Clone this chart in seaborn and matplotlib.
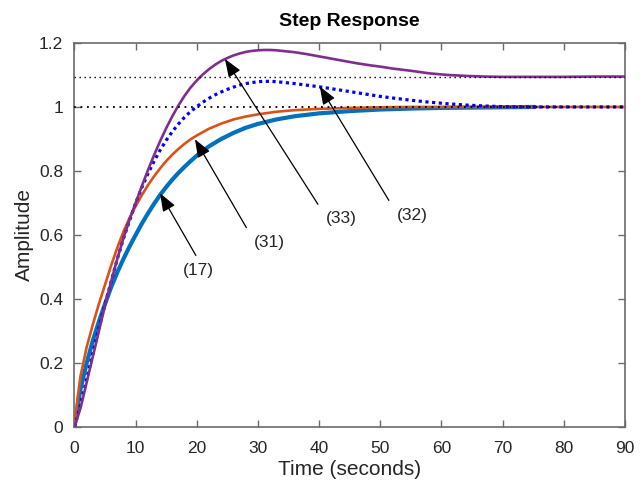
import numpy as np
import pandas as pd
import seaborn as sns
import matplotlib.pyplot as plt
from matplotlib.ticker import FormatStrFormatter

#%% Data
t17 = [0, 0.5, 1, 2, 3, 4, 5, 6, 7, 8, 9, 10, 11, 12, 13, 14, 15, 16, 17,
       18, 19, 20, 22, 24, 26, 28, 30, 33, 36, 40, 45, 50, 55, 60, 65, 70,
       75.3]
y17 = [0, 0.065, 0.12, 0.2, 0.27, 0.33, 0.385, 0.437, 0.483, 0.525, 0.564,
       0.60, 0.635, 0.667, 0.697, 0.725, 0.75, 0.773, 0.794, 0.813, 0.831,
       0.848, 0.877, 0.90, 0.919, 0.935, 0.947, 0.961, 0.971, 0.98, 0.987,
       0.992, 0.995, 0.997, 0.998, 0.999, 1.0]

t31 = [0, 0.5, 1, 2, 3, 4, 5, 6, 7, 8, 9, 10, 11, 12, 13, 14, 15, 16, 17,
       18, 19, 20, 22, 24, 26, 28, 30, 33, 36, 40, 45, 50, 55, 60, 70, 80, 90]
y31 = [0, 0.09, 0.16, 0.25, 0.32, 0.385, 0.445, 0.505, 0.56, 0.61, 0.653,
       0.69, 0.724, 0.755, 0.783, 0.808, 0.831, 0.851, 0.869, 0.885, 0.899,
       0.911, 0.932, 0.948, 0.961, 0.97, 0.977, 0.985, 0.99, 0.994, 0.997,
       0.999, 1.0, 1.0, 1.0, 1.0, 1.0]

t_sec = [0, 1, 2, 3, 4, 5, 6, 7, 8, 9, 10, 11, 12, 13, 14, 15, 16, 17, 18,
         19, 20, 21, 22, 23, 24, 25, 26, 27, 28, 29, 30, 31, 32, 33, 34, 36,
         38, 40, 42, 44, 46, 48, 50, 52, 55, 58, 61, 64, 67, 70, 75, 80, 85,
         90]
y32 = [0, 0.07, 0.15, 0.23, 0.31, 0.385, 0.455, 0.525, 0.588, 0.645, 0.70,
       0.748, 0.791, 0.83, 0.865, 0.896, 0.923, 0.947, 0.968, 0.986, 1.001,
       1.015, 1.027, 1.038, 1.047, 1.055, 1.062, 1.068, 1.073, 1.076, 1.079,
       1.080, 1.080, 1.079, 1.077, 1.073, 1.068, 1.063, 1.057, 1.051, 1.045,
       1.039, 1.033, 1.028, 1.021, 1.015, 1.01, 1.006, 1.003, 1.001, 1.0,
       1.0, 1.0, 1.0]
y33 = [0, 0.06, 0.14, 0.22, 0.30, 0.38, 0.455, 0.525, 0.59, 0.648, 0.70,
       0.752, 0.802, 0.849, 0.893, 0.934, 0.971, 1.005, 1.035, 1.061, 1.083,
       1.102, 1.118, 1.132, 1.144, 1.153, 1.161, 1.167, 1.172, 1.175, 1.177,
       1.178, 1.178, 1.177, 1.175, 1.171, 1.165, 1.158, 1.151, 1.144, 1.137,
       1.131, 1.126, 1.12, 1.113, 1.105, 1.10, 1.097, 1.095, 1.094, 1.094,
       1.094, 1.095, 1.095]

ref_levels = [1.0, 1.095]

# annotation labels: text, arrow tip, arrow tail, text position
labels = ['(17)', '(31)', '(33)', '(32)']
tips = [(14.0, 0.73), (19.7, 0.899), (24.6, 1.150), (40.1, 1.064)]
tails = [(19.85, 0.536), (28.1, 0.623), (39.8, 0.696), (51.4, 0.708)]
text_pos = [(20.3, 0.489), (31.9, 0.578), (43.7, 0.651), (55.3, 0.661)]

#%% Styling
sns.set_style("ticks")
plt.rcParams['font.family'] = ['Liberation Sans', 'DejaVu Sans']
axis_grey = '#6b6b6b'
text_col = '#262626'

fig = plt.figure(figsize=(6.42, 4.88), dpi=100)
ax = fig.add_axes([0.116, 0.125, 0.8575, 0.787])

sns.lineplot(x=t17, y=y17, ax=ax, color='#0072BD', lw=3.0, zorder=2)
sns.lineplot(x=t31, y=y31, ax=ax, color='#D95319', lw=1.9, zorder=3)
sns.lineplot(x=t_sec, y=y32, ax=ax, color='#0000FF', lw=2.3,
             linestyle=(0, (1, 1.1)), zorder=4)
sns.lineplot(x=t_sec, y=y33, ax=ax, color='#7E2F8E', lw=1.9, zorder=5)

for lev, w in zip(ref_levels, [1.3, 1.0]):
    ax.axhline(lev, color='black', lw=w, linestyle=(0, (1, 2.6)), zorder=6)

for lab, tip, tail, tp in zip(labels, tips, tails, text_pos):
    ax.annotate('', xy=tip, xytext=tail,
                arrowprops=dict(arrowstyle='-|>,head_length=1.1,head_width=0.42',
                                color='black', lw=0.9, mutation_scale=10,
                                shrinkA=0, shrinkB=0), zorder=7)
    ax.text(tp[0], tp[1], lab, ha='center', va='center', fontsize=12.5,
            color=text_col)

ax.set_xlim(0, 90)
ax.set_ylim(0, 1.2)
ax.set_xticks(np.arange(0, 91, 10))
ax.set_yticks(np.arange(0, 1.21, 0.2))
ax.yaxis.set_major_formatter(FormatStrFormatter('%g'))
ax.tick_params(direction='in', top=True, right=True, length=5, width=1,
               color=axis_grey, labelcolor=text_col, labelsize=12.5)
ax.tick_params(axis='x', pad=10)
ax.tick_params(axis='y', pad=8)
for sp in ax.spines.values():
    sp.set_color(axis_grey)
    sp.set_linewidth(1.2)

ax.set_xlabel('Time (seconds)', fontsize=15, color=text_col, labelpad=3)
ax.set_ylabel('Amplitude', fontsize=15, color=text_col, labelpad=4)
ax.set_title('Step Response', fontsize=14, fontweight='bold', color='black',
             pad=12)

plt.savefig('out.png', dpi=100)
